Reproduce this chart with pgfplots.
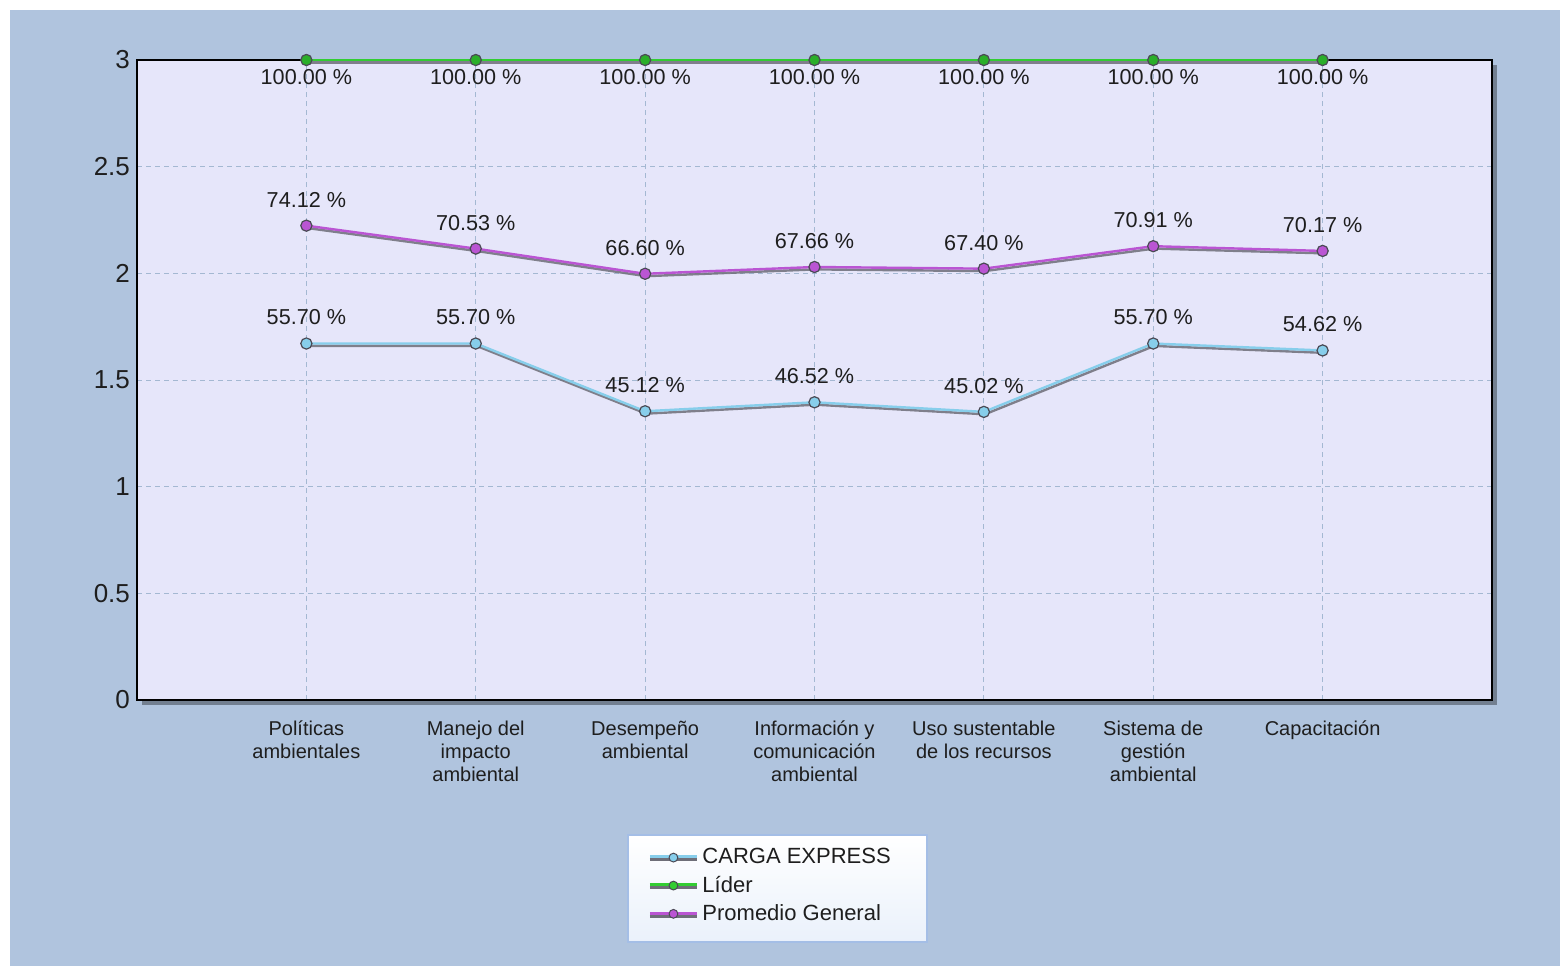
\documentclass[border=0pt]{standalone}
\usepackage{pgfplots}
\pgfplotsset{compat=1.18}
\usepackage{fontspec}
\setmainfont{Liberation Sans}
\definecolor{bgblue}{HTML}{B0C4DE}
\definecolor{plotbg}{HTML}{E6E6FA}
\definecolor{gridc}{HTML}{A4B8D2}
\definecolor{cargac}{HTML}{87CEEB}
\definecolor{liderc}{HTML}{32CD32}
\definecolor{promc}{HTML}{BA55D3}
\definecolor{shadowc}{HTML}{6E6E78}
\definecolor{markd}{HTML}{4A4A55}
\definecolor{legb}{HTML}{A4BEE6}
\definecolor{legbot}{HTML}{EAF1FB}
\definecolor{txt}{HTML}{1E1E1E}
\pgfplotsset{
  mylegend/.style={legend image code/.code={
    \draw[shadowc, line width=1.5pt] (0pt,-1.2pt) -- (23.5pt,-1.2pt);
    \draw[#1, line width=1.5pt] (0pt,0.4pt) -- (23.5pt,0.4pt);
    \draw[fill=#1, draw=markd, line width=0.5pt] (11.75pt,0pt) circle (2.2pt);
  }}
}
\begin{document}
\begin{tikzpicture}[x=1pt,y=1pt]
\useasboundingbox (0,0) rectangle (780,-483);
\fill[white] (0,0) rectangle (780,-483);
\fill[bgblue] (5,-5) rectangle (780,-483);
\fill[black, opacity=0.35] (71,-352.5) rectangle (748.5,-32.5);
\shade[top color=white, bottom color=legbot] (314,-417.5) rectangle (463.5,-471);
\draw[legb, line width=0.8pt] (314,-417.5) rectangle (463.5,-471);
\begin{axis}[
  at={(68.5pt,-350pt)}, anchor=south west,
  scale only axis, width=677.5pt, height=320pt,
  xmin=0, xmax=8, ymin=0, ymax=3,
  xtick={1,...,7},
  xticklabels={{Políticas\\ambientales},{Manejo del\\impacto\\ambiental},{Desempeño\\ambiental},{Información y\\comunicación\\ambiental},{Uso sustentable\\de los recursos},{Sistema de\\gestión\\ambiental},{Capacitación}},
  ytick={0,0.5,1,1.5,2,2.5,3},
  yticklabels={0,0.5,1,1.5,2,2.5,3},
  /pgf/number format/assume math mode=true,
  xticklabel style={align=center, font=\fontsize{10}{11.5}\selectfont, text=txt, yshift=-7pt},
  yticklabel style={font=\fontsize{13}{15}\selectfont, text=txt},
  grid=major,
  major grid style={gridc, dash pattern=on 2.5pt off 2pt, line width=0.5pt},
  major tick length=0pt,
  axis line style={black, line width=1pt},
  axis background/.style={fill=plotbg},
  clip=false,
  legend style={at={(0.3624,-0.2125)}, anchor=north west, draw=none, fill=none,
    font=\fontsize{11}{13.8}\selectfont, text=txt, inner xsep=10pt, inner ysep=4pt, row sep=0.6pt},
  legend cell align=left,
]
% shadows
\addplot[shadowc, line width=1.2pt, no marks, forget plot, xshift=0.5pt, yshift=-1.2pt, opacity=0.85]
 coordinates {(1,1.671) (2,1.671) (3,1.3536) (4,1.3956) (5,1.3506) (6,1.671) (7,1.6386)};
\addplot[shadowc, line width=1.2pt, no marks, forget plot, xshift=0.5pt, yshift=-1.2pt, opacity=0.85]
 coordinates {(1,3) (2,3) (3,3) (4,3) (5,3) (6,3) (7,3)};
\addplot[shadowc, line width=1.2pt, no marks, forget plot, xshift=0.5pt, yshift=-1.2pt, opacity=0.85]
 coordinates {(1,2.2236) (2,2.1159) (3,1.998) (4,2.0298) (5,2.022) (6,2.1273) (7,2.1051)};
% series
\addplot[cargac, line width=1.2pt, mark=*, mark size=2.8pt, mark options={fill=cargac, draw=markd, line width=0.6pt}, mylegend=cargac,
  nodes near coords, point meta=explicit symbolic,
  every node near coord/.append style={anchor=center, yshift=13pt, font=\fontsize{10.8}{12}\selectfont, text=txt}]
 coordinates {(1,1.671)[55.70 \%] (2,1.671)[55.70 \%] (3,1.3536)[45.12 \%] (4,1.3956)[46.52 \%] (5,1.3506)[45.02 \%] (6,1.671)[55.70 \%] (7,1.6386)[54.62 \%]};
\addlegendentry{CARGA EXPRESS}
\addplot[liderc, line width=1.2pt, mark=*, mark size=2.8pt, mark options={fill=liderc!85!black, draw=markd, line width=0.6pt}, mylegend=liderc,
  nodes near coords, point meta=explicit symbolic,
  every node near coord/.append style={anchor=center, yshift=-8.5pt, font=\fontsize{10.8}{12}\selectfont, text=txt}]
 coordinates {(1,3)[100.00 \%] (2,3)[100.00 \%] (3,3)[100.00 \%] (4,3)[100.00 \%] (5,3)[100.00 \%] (6,3)[100.00 \%] (7,3)[100.00 \%]};
\addlegendentry{Líder}
\addplot[promc, line width=1.2pt, mark=*, mark size=2.8pt, mark options={fill=promc, draw=markd, line width=0.6pt}, mylegend=promc,
  nodes near coords, point meta=explicit symbolic,
  every node near coord/.append style={anchor=center, yshift=13pt, font=\fontsize{10.8}{12}\selectfont, text=txt}]
 coordinates {(1,2.2236)[74.12 \%] (2,2.1159)[70.53 \%] (3,1.998)[66.60 \%] (4,2.0298)[67.66 \%] (5,2.022)[67.40 \%] (6,2.1273)[70.91 \%] (7,2.1051)[70.17 \%]};
\addlegendentry{Promedio General}
\end{axis}
\end{tikzpicture}
\end{document}
